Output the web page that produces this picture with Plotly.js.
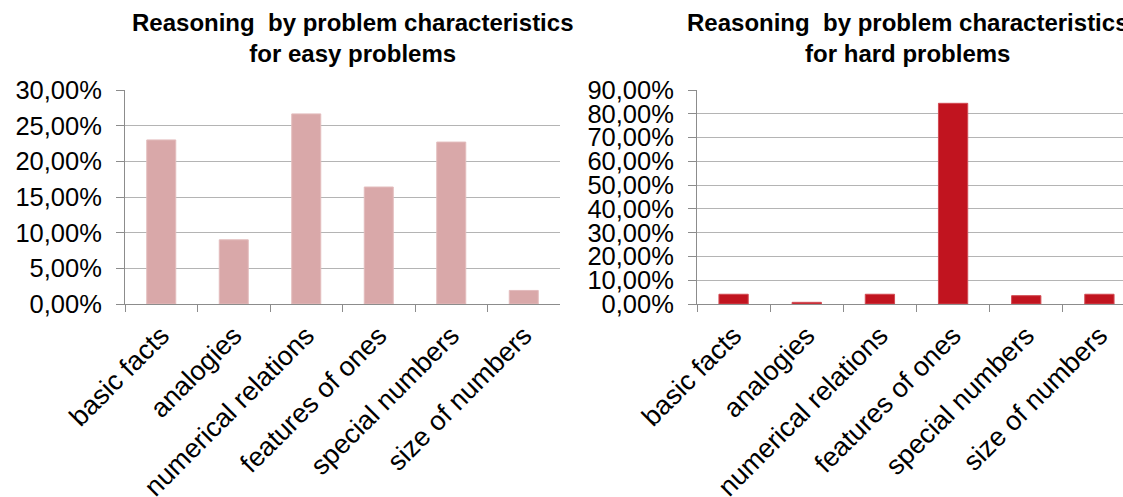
<!DOCTYPE html>
<html>
<head>
<meta charset="utf-8">
<script src="https://cdn.plot.ly/plotly-3.0.1.min.js"></script>
<style>
html,body{margin:0;padding:0;overflow:hidden;background:#fff;}
#chart{width:1140px;height:497px;}
</style>
</head>
<body>
<div id="chart"></div>
<script>
var categories = ["basic facts", "analogies", "numerical relations", "features of ones", "special numbers", "size of numbers"];
var easyValues = [0.230, 0.090, 0.2665, 0.164, 0.227, 0.019];
var hardValues = [0.041, 0.007, 0.041, 0.844, 0.035, 0.041];
var easyTitle = "Reasoning  by problem characteristics<br>for easy problems";
var hardTitle = "Reasoning  by problem characteristics<br>for hard problems";

var W = 1140, H = 497;
var font = "Liberation Sans, Arial, sans-serif";

var traces = [
  {type: "bar", x: categories, y: easyValues, xaxis: "x", yaxis: "y",
   marker: {color: "#d9a8a9", line: {color: "#e3bcbd", width: 1}}, hoverinfo: "y"},
  {type: "bar", x: categories, y: hardValues, xaxis: "x2", yaxis: "y2",
   marker: {color: "#c1141f", line: {color: "#d24a52", width: 1}}, hoverinfo: "y"}
];

function xax(d0, d1, anchor) {
  return {domain: [d0 / W, d1 / W], anchor: anchor, type: "category",
    tickson: "boundaries", ticks: "outside", ticklen: 7, tickcolor: "#8c8c8c", tickwidth: 1,
    showline: true, linecolor: "#8c8c8c", linewidth: 1, showgrid: false,
    tickangle: -45, ticklabelstandoff: 4,
    tickfont: {family: font, size: 27, color: "#000"}, automargin: false};
}
function yax(anchor, top, dt) {
  return {anchor: anchor, domain: [0, 1], range: [0, top], dtick: dt, tickformat: ".2%",
    showline: true, linecolor: "#8c8c8c", linewidth: 1, ticks: "outside", ticklen: 8,
    tickcolor: "#8c8c8c", gridcolor: "#b4b4b4", gridwidth: 1, zeroline: false,
    ticklabelstandoff: 9,
    tickfont: {family: font, size: 25.5, color: "#000"}, automargin: false};
}

var layout = {
  width: W, height: H, separators: ",.",
  margin: {l: 0, r: 0, t: 90, b: 193},
  paper_bgcolor: "#fff", plot_bgcolor: "#fff",
  showlegend: false, bargap: 0.6,
  xaxis: xax(125, 560, "y"),
  yaxis: yax("x", 0.30, 0.05),
  xaxis2: xax(697, 1136, "y2"),
  yaxis2: yax("x2", 0.90, 0.10),
  annotations: [
    {text: easyTitle, xref: "paper", yref: "paper", x: 352 / W, y: (304 - 7) / 214,
     xanchor: "center", yanchor: "top", showarrow: false,
     font: {family: font, size: 24, color: "#000", weight: "bold"}},
    {text: hardTitle, xref: "paper", yref: "paper", x: 907 / W, y: (304 - 7) / 214,
     xanchor: "center", yanchor: "top", showarrow: false,
     font: {family: font, size: 24, color: "#000", weight: "bold"}}
  ]
};

Plotly.newPlot("chart", traces, layout, {displayModeBar: false, staticPlot: true});
</script>
</body>
</html>
